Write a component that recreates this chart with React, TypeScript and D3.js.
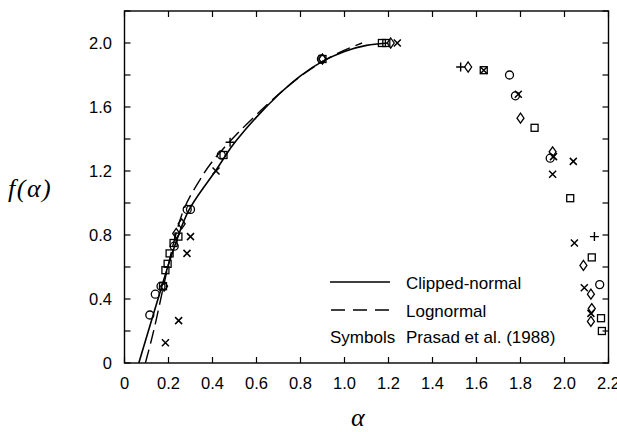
import React from "react";
import * as d3 from "d3";

// ---- data ----
const xTicks = [0, 0.2, 0.4, 0.6, 0.8, 1.0, 1.2, 1.4, 1.6, 1.8, 2.0, 2.2];
const xTickLabels = ["0", "0.2", "0.4", "0.6", "0.8", "1.0", "1.2", "1.4", "1.6", "1.8", "2.0", "2.2"];
const yTicks = [0, 0.2, 0.4, 0.6, 0.8, 1.0, 1.2, 1.4, 1.6, 1.8, 2.0, 2.2];
const yLabelTicks = [0, 0.4, 0.8, 1.2, 1.6, 2.0];
const yTickLabels = ["0", "0.4", "0.8", "1.2", "1.6", "2.0"];

// Clipped-normal curve (alpha, f)
const clippedNormal: [number, number][] = [
  [0.065, 0], [0.13, 0.3], [0.17, 0.48], [0.2, 0.62], [0.25, 0.82], [0.29, 0.96],
  [0.35, 1.08], [0.42, 1.21], [0.46, 1.3], [0.5, 1.38], [0.6, 1.54], [0.7, 1.68],
  [0.8, 1.8], [0.9, 1.89], [1.0, 1.95], [1.1, 1.99], [1.2, 2.0],
];
// Lognormal curve (alpha, f)
const lognormal: [number, number][] = [
  [0.095, 0], [0.12, 0.13], [0.14, 0.24], [0.18, 0.5], [0.22, 0.74], [0.26, 0.94],
  [0.3, 1.05], [0.35, 1.16], [0.39, 1.25], [0.5, 1.42], [0.65, 1.62], [0.8, 1.8],
  [0.95, 1.93], [1.08, 2.0],
];

// Prasad et al. (1988) symbols
const circles: [number, number][] = [
  [0.115, 0.3], [0.14, 0.43], [0.166, 0.48], [0.226, 0.73], [0.285, 0.96], [0.3, 0.96],
  [0.44, 1.3], [0.895, 1.9], [1.75, 1.8], [1.777, 1.67], [1.935, 1.28], [2.16, 0.49],
];
const squares: [number, number][] = [
  [0.175, 0.48], [0.186, 0.58], [0.196, 0.62], [0.205, 0.685], [0.223, 0.75], [0.245, 0.79],
  [0.45, 1.3], [0.9, 1.9], [1.17, 2.0], [1.19, 2.0], [1.633, 1.83], [1.864, 1.47],
  [2.026, 1.03], [2.124, 0.66], [2.166, 0.28], [2.17, 0.2],
];
const diamonds: [number, number][] = [
  [0.18, 0.48], [0.235, 0.81], [0.26, 0.87], [0.9, 1.9], [1.21, 2.0], [1.562, 1.85],
  [1.8, 1.53], [1.946, 1.32], [2.086, 0.61], [2.12, 0.43], [2.124, 0.34], [2.12, 0.26],
];
const crosses: [number, number][] = [
  [0.186, 0.127], [0.246, 0.265], [0.284, 0.685], [0.3, 0.79], [0.416, 1.2], [1.24, 2.0],
  [1.633, 1.83], [1.79, 1.68], [1.95, 1.29], [2.04, 1.26], [1.946, 1.18], [2.045, 0.75],
  [2.09, 0.47], [2.12, 0.31],
];
const pluses: [number, number][] = [
  [0.48, 1.38], [1.528, 1.85], [2.136, 0.79],
];

const legendLabels = ["Clipped-normal", "Lognormal"];
const legendSymbolsLabel = ["Symbols", "Prasad et al. (1988)"];

export default function App() {
  const W = 617, H = 432;
  const x = d3.scaleLinear().domain([0, 2.2]).range([124.5, 608.5]);
  const y = d3.scaleLinear().domain([0, 2.2]).range([363, 11]);
  const line = d3.line<[number, number]>().x(d => x(d[0])).y(d => y(d[1])).curve(d3.curveBasis);
  const sans = "'Liberation Sans', Arial, Helvetica, sans-serif";
  const serif = "'Liberation Serif', 'Times New Roman', serif";
  const sw = 1.3;
  const tick = 6;

  return (
    <svg width={W} height={H} style={{ position: "absolute", left: 0, top: 0, background: "#fff" }}>
      <rect x={0} y={0} width={W} height={H} fill="#fff" />
      {/* frame */}
      <rect x={x(0)} y={y(2.2)} width={x(2.2) - x(0)} height={y(0) - y(2.2)} fill="none" stroke="#000" strokeWidth={1.4} />
      {/* x ticks */}
      {xTicks.map((t, i) => (
        <g key={"xt" + i}>
          <line x1={x(t)} x2={x(t)} y1={y(0)} y2={y(0) - tick} stroke="#000" strokeWidth={1.2} />
          <line x1={x(t)} x2={x(t)} y1={y(2.2)} y2={y(2.2) + tick} stroke="#000" strokeWidth={1.2} />
          <text x={x(t)} y={389} textAnchor="middle" fontFamily={sans} fontSize={16.5} fill="#000">{xTickLabels[i]}</text>
        </g>
      ))}
      {/* y ticks */}
      {yTicks.map((t, i) => (
        <g key={"yt" + i}>
          <line x1={x(0)} x2={x(0) + tick} y1={y(t)} y2={y(t)} stroke="#000" strokeWidth={1.2} />
          <line x1={x(2.2)} x2={x(2.2) - tick} y1={y(t)} y2={y(t)} stroke="#000" strokeWidth={1.2} />
        </g>
      ))}
      {yLabelTicks.map((t, i) => (
        <text key={"yl" + i} x={112} y={y(t)} dy="0.36em" textAnchor="end" fontFamily={sans} fontSize={16.5} fill="#000">{yTickLabels[i]}</text>
      ))}
      {/* axis titles */}
      <text x={8} y={197} fontFamily={serif} fontStyle="italic" fontSize={26} letterSpacing={1.5} fill="#000">f(α)</text>
      <text x={351} y={426} fontFamily={serif} fontStyle="italic" fontSize={26} fill="#000">α</text>

      {/* curves */}
      <path d={line(clippedNormal) || ""} fill="none" stroke="#000" strokeWidth={1.6} />
      <path d={line(lognormal) || ""} fill="none" stroke="#000" strokeWidth={1.4} strokeDasharray="14 6" />

      {/* symbols */}
      {circles.map((d, i) => (
        <circle key={"c" + i} cx={x(d[0])} cy={y(d[1])} r={4} fill="none" stroke="#000" strokeWidth={sw} />
      ))}
      {squares.map((d, i) => (
        <rect key={"s" + i} x={x(d[0]) - 3.5} y={y(d[1]) - 3.5} width={7} height={7} fill="none" stroke="#000" strokeWidth={sw} />
      ))}
      {diamonds.map((d, i) => {
        const cx = x(d[0]), cy = y(d[1]);
        return <path key={"d" + i} d={`M${cx},${cy - 5}L${cx + 3.5},${cy}L${cx},${cy + 5}L${cx - 3.5},${cy}Z`} fill="none" stroke="#000" strokeWidth={sw} />;
      })}
      {crosses.map((d, i) => {
        const cx = x(d[0]), cy = y(d[1]), s = 3.5;
        return <path key={"x" + i} d={`M${cx - s},${cy - s}L${cx + s},${cy + s}M${cx - s},${cy + s}L${cx + s},${cy - s}`} stroke="#000" strokeWidth={1.5} />;
      })}
      {pluses.map((d, i) => {
        const cx = x(d[0]), cy = y(d[1]), s = 4.5;
        return <path key={"p" + i} d={`M${cx - s},${cy}L${cx + s},${cy}M${cx},${cy - s}L${cx},${cy + s}`} stroke="#000" strokeWidth={1.4} />;
      })}

      {/* legend */}
      <line x1={330} x2={390} y1={282} y2={282} stroke="#000" strokeWidth={1.6} />
      <text x={406} y={289} fontFamily={sans} fontSize={17} fill="#000">{legendLabels[0]}</text>
      <line x1={331} x2={390} y1={310} y2={310} stroke="#000" strokeWidth={1.4} strokeDasharray="14 8" />
      <text x={406} y={317} fontFamily={sans} fontSize={17} fill="#000">{legendLabels[1]}</text>
      <text x={330} y={343} fontFamily={sans} fontSize={17} fill="#000">{legendSymbolsLabel[0]}</text>
      <text x={406} y={343} fontFamily={sans} fontSize={17} fill="#000">{legendSymbolsLabel[1]}</text>
    </svg>
  );
}
